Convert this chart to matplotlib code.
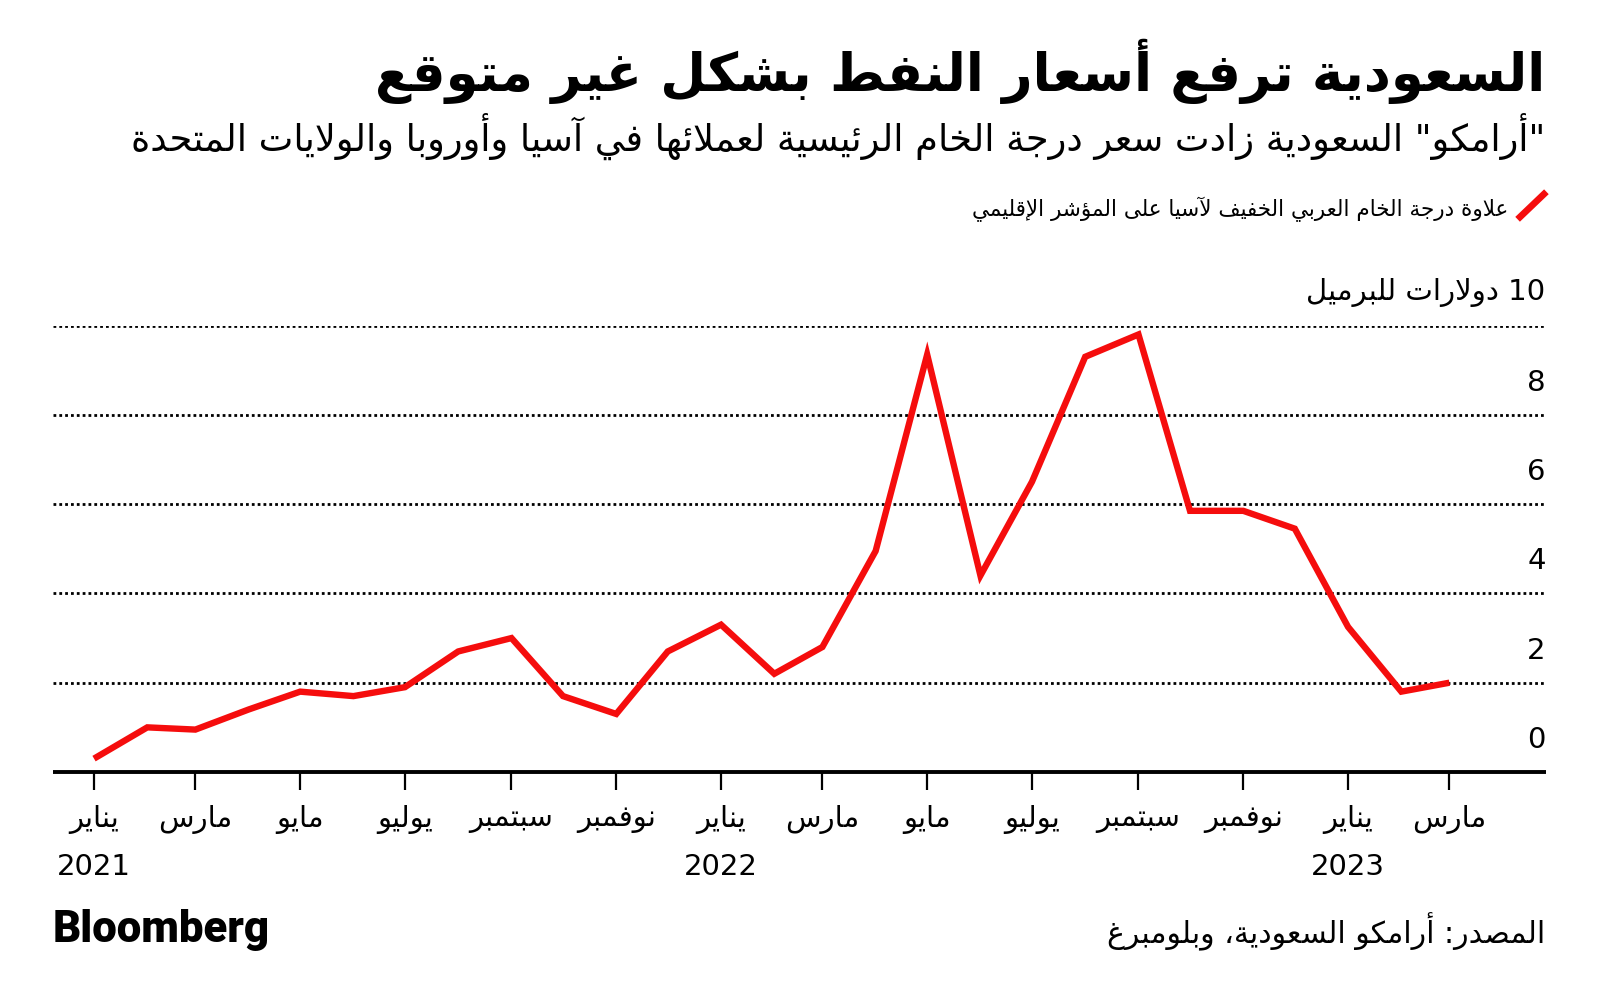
"""
plot.py - Saudi Arab Light OSP premium to Asia (Bloomberg style, Arabic).
"""
import re
import numpy as np
import matplotlib
matplotlib.use("Agg")
import matplotlib.pyplot as plt
from matplotlib.lines import Line2D

# ---- data -------------------------------------------------------------
months = ["2021-01", "2021-02", "2021-03", "2021-04", "2021-05", "2021-06",
          "2021-07", "2021-08", "2021-09", "2021-10", "2021-11", "2021-12",
          "2022-01", "2022-02", "2022-03", "2022-04", "2022-05", "2022-06",
          "2022-07", "2022-08", "2022-09", "2022-10", "2022-11", "2022-12",
          "2023-01", "2023-02", "2023-03"]
premium = [0.3, 1.0, 0.95, 1.4, 1.8, 1.7, 1.9, 2.7, 3.0, 1.7, 1.3, 2.7,
           3.3, 2.2, 2.8, 4.95, 9.35, 4.4, 6.5, 9.3, 9.8, 5.85, 5.85, 5.45,
           3.25, 1.8, 2.0]

month_names = ["يناير", "مارس", "مايو", "يوليو", "سبتمبر", "نوفمبر"]
year_labels = {"2021-01": "2021", "2022-01": "2022", "2023-01": "2023"}
y_ticks = [0, 2, 4, 6, 8, 10]
y_tick_labels = ["0", "2", "4", "6", "8", "10 دولارات للبرميل"]

title = "السعودية ترفع أسعار النفط بشكل غير متوقع"
subtitle = '"أرامكو" السعودية زادت سعر درجة الخام الرئيسية لعملائها في آسيا وأوروبا والولايات المتحدة'
legend_label = "علاوة درجة الخام العربي الخفيف لآسيا على المؤشر الإقليمي"
source = "المصدر: أرامكو السعودية، وبلومبرغ"

RED = "#f50d0d"


# ---- minimal arabic shaping (matplotlib has no shaping / bidi) ---------
FOUR = {'ئ': 0xFE89, 'ب': 0xFE8F, 'ت': 0xFE95, 'ث': 0xFE99, 'ج': 0xFE9D,
        'ح': 0xFEA1, 'خ': 0xFEA5, 'س': 0xFEB1, 'ش': 0xFEB5, 'ص': 0xFEB9,
        'ض': 0xFEBD, 'ط': 0xFEC1, 'ظ': 0xFEC5, 'ع': 0xFEC9, 'غ': 0xFECD,
        'ف': 0xFED1, 'ق': 0xFED5, 'ك': 0xFED9, 'ل': 0xFEDD, 'م': 0xFEE1,
        'ن': 0xFEE5, 'ه': 0xFEE9, 'ي': 0xFEF1}
TWO = {'آ': 0xFE81, 'أ': 0xFE83, 'ؤ': 0xFE85, 'إ': 0xFE87, 'ا': 0xFE8D,
       'ة': 0xFE93, 'د': 0xFEA9, 'ذ': 0xFEAB, 'ر': 0xFEAD, 'ز': 0xFEAF,
       'و': 0xFEED, 'ى': 0xFEEF}
ONE = {'ء': 0xFE80}
LAMALEF = {'آ': 0xFEF5, 'أ': 0xFEF7, 'إ': 0xFEF9, 'ا': 0xFEFB}


def ar(text):
    units = []
    i = 0
    while i < len(text):
        c = text[i]
        if c == 'ل' and i + 1 < len(text) and text[i + 1] in LAMALEF:
            units.append(("LA", text[i + 1]))
            i += 2
        else:
            units.append(("C", c))
            i += 1

    def joins_next(u):
        return u[0] == "C" and u[1] in FOUR

    def joins_prev(u):
        return u[0] == "LA" or u[1] in FOUR or u[1] in TWO

    out = []
    for k, u in enumerate(units):
        p = k > 0 and joins_next(units[k - 1]) and joins_prev(u)
        n = k + 1 < len(units) and joins_next(u) and joins_prev(units[k + 1])
        if u[0] == "LA":
            out.append(chr(LAMALEF[u[1]] + (1 if p else 0)))
        elif u[1] in FOUR:
            off = 3 if (p and n) else 1 if p else 2 if n else 0
            out.append(chr(FOUR[u[1]] + off))
        elif u[1] in TWO:
            out.append(chr(TWO[u[1]] + (1 if p else 0)))
        elif u[1] in ONE:
            out.append(chr(ONE[u[1]]))
        else:
            out.append(u[1])
    s = "".join(out)[::-1]
    # put latin / digit runs back in logical order
    return re.sub(r"[0-9A-Za-z.%]+", lambda m: m.group(0)[::-1], s)


plt.rcParams["font.family"] = ["DejaVu Sans"]

# ---- figure -----------------------------------------------------------
fig = plt.figure(figsize=(16, 10.06), dpi=100)
ax = fig.add_axes([0.033, 0.2326, 0.933, 0.4438])

dates = np.array(months, dtype="datetime64[D]")
ax.plot(dates, premium, color=RED, lw=4.6, solid_joinstyle="miter",
        solid_capstyle="butt", zorder=3)

ax.set_ylim(0, 10)
ax.set_xlim(np.datetime64("2020-12-08"), np.datetime64("2023-04-26"))

for v in y_ticks[1:]:
    ax.axhline(v, color="black", lw=2.0, ls=(0, (1, 1.1)), zorder=1)

for s in ["top", "left", "right"]:
    ax.spines[s].set_visible(False)
ax.spines["bottom"].set_linewidth(2.8)
ax.spines["bottom"].set_capstyle("butt")

ax.set_yticks([])
for v, lbl in zip(y_ticks, y_tick_labels):
    ax.annotate(ar(lbl), xy=(1, v), xycoords=("axes fraction", "data"),
                xytext=(0, 13), textcoords="offset points",
                ha="right", va="bottom", fontsize=21)

tick_months = months[::2]
tick_labels = []
for i, m in enumerate(tick_months):
    lbl = ar(month_names[i % 6])
    if m in year_labels:
        lbl += "\n" + year_labels[m]
    tick_labels.append(lbl)
ax.set_xticks(np.array(tick_months, dtype="datetime64[D]"))
ax.set_xticklabels(tick_labels, fontsize=21, linespacing=1.85, va="top")
ax.tick_params(axis="x", direction="out", length=13, width=1.6, pad=11)

# ---- texts ------------------------------------------------------------
fig.text(0.966, 0.929, ar(title), ha="right", va="center",
         fontsize=38, fontweight="bold")
fig.text(0.966, 0.864, ar(subtitle), ha="right", va="center", fontsize=26.5)

fig.add_artist(Line2D([0.9500, 0.9650], [0.7843, 0.8071], color=RED,
                      lw=4.8, transform=fig.transFigure))
fig.text(0.9425, 0.792, ar(legend_label), ha="right", va="center", fontsize=15.5)

fig.text(0.033, 0.076, "Bloomberg", ha="left", va="center",
         fontsize=31.5, fontweight="heavy", family=["Roboto", "DejaVu Sans"])
fig.text(0.966, 0.074, ar(source), ha="right", va="center", fontsize=21.5)

fig.savefig("out.png", dpi=100, facecolor="white")
